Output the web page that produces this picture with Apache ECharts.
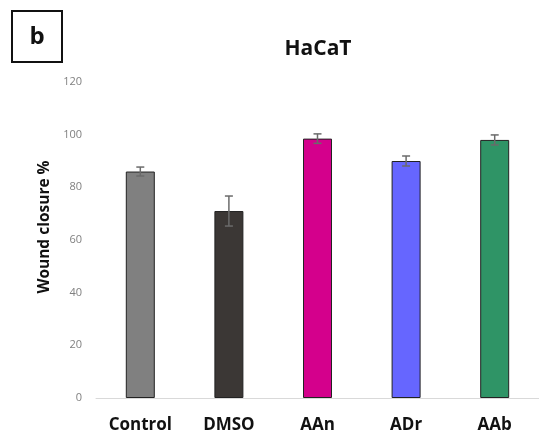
<!DOCTYPE html>
<html>
<head>
<meta charset="utf-8">
<script src="https://cdn.jsdelivr.net/npm/echarts@6/dist/echarts.min.js"></script>
<style>html,body{margin:0;padding:0;background:#fff}#c{width:539px;height:437px}</style>
</head>
<body>
<div id="c"></div>
<script>
var categories = ['Control', 'DMSO', 'AAn', 'ADr', 'AAb'];
var values = [86, 71, 98.5, 90, 98];
var errors = [1.7, 5.7, 1.8, 1.9, 1.9];
var barColors = ['#808080', '#3b3735', '#d4008c', '#6666ff', '#2f9466'];
var yTicks = {min: 0, max: 120, interval: 20};

var chart = echarts.init(document.getElementById('c'));
var font = '"Open Sans", "Liberation Sans", Arial, sans-serif';

chart.setOption({
  backgroundColor: '#fff',
  animation: false,
  title: {
    text: 'HaCaT', left: 313, top: 34, textAlign: 'center',
    textStyle: {fontFamily: font, fontWeight: 'bold', fontSize: 21, color: '#111'}
  },
  graphic: [
    {type: 'rect', shape: {x: 12, y: 11, width: 50, height: 51}, style: {fill: '#fff', stroke: '#111', lineWidth: 2}},
    {type: 'text', x: 37, y: 37, style: {text: 'b', fontFamily: font, fontWeight: 'bold', fontSize: 24, fill: '#111', align: 'center', verticalAlign: 'middle'}},
    {type: 'text', x: 45, y: 227, rotation: Math.PI / 2, style: {text: 'Wound closure %', fontFamily: font, fontWeight: 'bold', fontSize: 15.5, fill: '#111', align: 'center', verticalAlign: 'middle'}}
  ],
  grid: {left: 96, top: 82, width: 455, bottom: 39, containLabel: false},
  xAxis: {
    type: 'category', data: categories,
    axisLine: {lineStyle: {color: '#d9d9d9', width: 1}},
    axisTick: {show: false},
    axisLabel: {fontFamily: font, fontWeight: 'bold', fontSize: 17, color: '#111', margin: 19}
  },
  yAxis: {
    type: 'value', min: yTicks.min, max: yTicks.max, interval: yTicks.interval,
    axisLine: {show: false}, axisTick: {show: false}, splitLine: {show: false},
    axisLabel: {fontFamily: font, fontSize: 11, color: '#808080', margin: 14}
  },
  series: [
    {
      type: 'bar', barWidth: 29,
      data: values.map(function (v, i) {
        return {value: v, itemStyle: {color: barColors[i], borderColor: '#222', borderWidth: 1}};
      })
    },
    {
      type: 'custom',
      data: values.map(function (v, i) { return [i, v - errors[i], v + errors[i]]; }),
      renderItem: function (params, api) {
        var lo = api.coord([api.value(0), api.value(1)]);
        var hi = api.coord([api.value(0), api.value(2)]);
        var hw = 4;
        var st = {stroke: '#6b6b6b', lineWidth: 1.5};
        return {type: 'group', children: [
          {type: 'line', shape: {x1: lo[0], y1: lo[1], x2: hi[0], y2: hi[1]}, style: st},
          {type: 'line', shape: {x1: lo[0] - hw, y1: lo[1], x2: lo[0] + hw, y2: lo[1]}, style: st},
          {type: 'line', shape: {x1: hi[0] - hw, y1: hi[1], x2: hi[0] + hw, y2: hi[1]}, style: st}
        ]};
      },
      z: 10
    }
  ]
});
</script>
</body>
</html>
